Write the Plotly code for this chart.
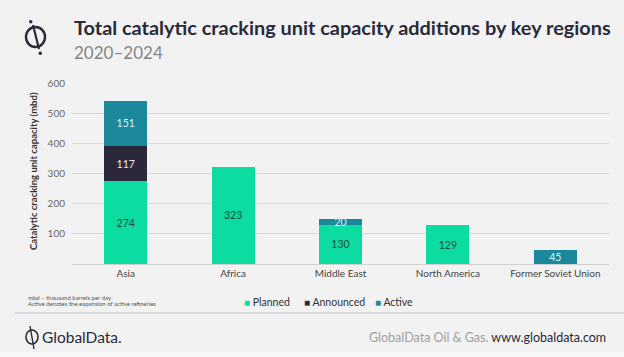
import plotly.graph_objects as go

regions = ["Asia", "Africa", "Middle East", "North America", "Former Soviet Union"]
planned = [274, 323, 130, 129, None]
announced = [117, None, None, None, None]
active = [151, None, 20, None, 45]
y_ticks = [100, 200, 300, 400, 500, 600]
series_names = ["Planned", "Announced", "Active"]

C_PLANNED = "#0ddca2"
C_ANN = "#2c283c"
C_ACT = "#1b889c"
colors = [C_PLANNED, C_ANN, C_ACT]
BG = "#f2f2f2"
FONT = "Lato, Open Sans, sans-serif"

W, H = 624, 357
ML, MR, MT, MB = 72, 15, 83, 93

fig = go.Figure()
fig.add_trace(go.Bar(x=regions, y=planned, name=series_names[0], marker_color=C_PLANNED,
                     text=[str(v) if v else "" for v in planned],
                     textfont=dict(color="#1e4a40", size=10.5)))
fig.add_trace(go.Bar(x=regions, y=announced, name=series_names[1], marker_color=C_ANN,
                     text=[str(v) if v else "" for v in announced],
                     textfont=dict(color="#e8e8f0", size=10.5)))
fig.add_trace(go.Bar(x=regions, y=active, name=series_names[2], marker_color=C_ACT,
                     text=[str(v) if v else "" for v in active],
                     textfont=dict(color="#d8f4f8", size=10.5)))

fig.update_traces(marker_line_width=0, width=0.4, textposition="inside",
                  insidetextanchor="middle", textangle=0, constraintext="none")

fig.update_layout(
    barmode="stack",
    width=W, height=H,
    paper_bgcolor=BG, plot_bgcolor=BG,
    margin=dict(l=ML, r=MR, t=MT, b=MB, autoexpand=False),
    font=dict(family=FONT, color="#444"),
    uniformtext=dict(minsize=8, mode="show"),
    showlegend=False,
    xaxis=dict(showgrid=False, showline=True, linecolor="#d0d0d0", linewidth=1,
               tickfont=dict(size=10, color="#444"), ticks="", automargin=False),
    yaxis=dict(range=[0, 600], tickvals=y_ticks, showgrid=True, gridcolor="#dadada",
               gridwidth=1, zeroline=False, tickfont=dict(size=10, color="#666"),
               ticklabelstandoff=6, automargin=False),
)

def px_x(v):
    return (v - ML) / (W - ML - MR)

def px_y(v):
    return (H - MB - v) / (H - MT - MB)

def note(x, y, text, size, color, anchor="left", bold=False, family=FONT, angle=0):
    fig.add_annotation(x=px_x(x), y=px_y(y), xref="paper", yref="paper",
                       text=f"<b>{text}</b>" if bold else text, showarrow=False,
                       xanchor=anchor, yanchor="middle", textangle=angle,
                       font=dict(size=size, color=color, family=family))

note(72, 27, "Total catalytic cracking unit capacity additions by key regions", 19.9, "#2a2a38", bold=True)
note(72, 52, "2020–2024", 17, "#858585")
fig.add_annotation(x=px_x(33), y=px_y(171), xref="paper", yref="paper",
                   text="<b>Catalytic cracking unit capacity (mbd)</b>", showarrow=False,
                   textangle=-90, xanchor="center", yanchor="middle",
                   font=dict(size=9.5, color="#333", family=FONT))
note(26, 297.5, "mbd – thousand barrels per day", 6, "#555")
note(26, 303.5, "Active denotes the expansion of active refineries", 6, "#555")

# legend
legend_x = [242, 302, 373]
for name, col, lx in zip(series_names, colors, legend_x):
    note(lx, 302, f"<span style='color:{col};font-size:10px'>■</span> {name}", 10.5, "#333")

note(40, 337, "GlobalData.", 15.5, "#2a2a38", family="Lato, sans-serif")
note(608, 337, "<span style='color:#a0a0a0'>GlobalData Oil &amp; Gas.</span> <span style='color:#2a2a38'>www.globaldata.com</span>",
     12.5, "#333", anchor="right")

shapes = []
shapes.append(dict(type="line", xref="paper", yref="paper", x0=px_x(15), x1=px_x(624),
                   y0=px_y(313), y1=px_y(313), line=dict(color="#c4c4c4", width=1)))
shapes.append(dict(type="rect", xref="paper", yref="paper", x0=px_x(0), x1=px_x(624),
                   y0=px_y(352), y1=px_y(357), fillcolor="#f7f7f7", line=dict(width=0)))
# header logo
shapes.append(dict(type="circle", xref="paper", yref="paper", x0=px_x(26), x1=px_x(45),
                   y0=px_y(47), y1=px_y(27), line=dict(color="#2a2a38", width=2.4)))
shapes.append(dict(type="line", xref="paper", yref="paper", x0=px_x(33), x1=px_x(39),
                   y0=px_y(25), y1=px_y(49), line=dict(color="#2a2a38", width=2.2)))
shapes.append(dict(type="circle", xref="paper", yref="paper", x0=px_x(29), x1=px_x(32.5),
                   y0=px_y(23.5), y1=px_y(20), fillcolor="#2a2a38", line=dict(width=0)))
shapes.append(dict(type="circle", xref="paper", yref="paper", x0=px_x(38.5), x1=px_x(42),
                   y0=px_y(55), y1=px_y(51.5), fillcolor="#2a2a38", line=dict(width=0)))
# footer logo
shapes.append(dict(type="circle", xref="paper", yref="paper", x0=px_x(26), x1=px_x(38),
                   y0=px_y(344), y1=px_y(330), line=dict(color="#2a2a38", width=1.6)))
shapes.append(dict(type="line", xref="paper", yref="paper", x0=px_x(30), x1=px_x(34),
                   y0=px_y(326), y1=px_y(349), line=dict(color="#2a2a38", width=1.4)))
fig.update_layout(shapes=shapes)

fig.write_html("out.html", config={"displayModeBar": False},
               post_script="document.body.style.margin='0';document.body.style.overflow='hidden';")
